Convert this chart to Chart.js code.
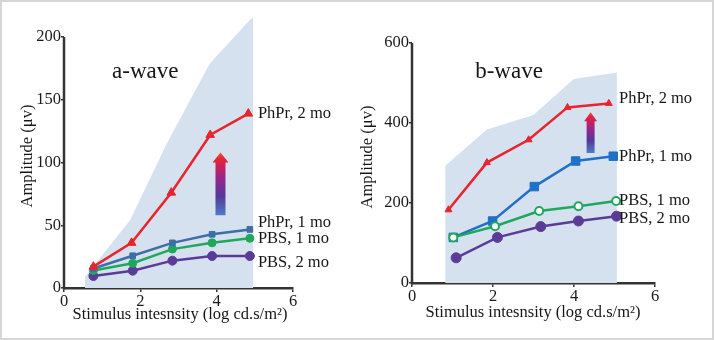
<!DOCTYPE html>
<html><head><meta charset="utf-8">
<script src="https://cdn.jsdelivr.net/npm/chart.js@4.4.1/dist/chart.umd.min.js"></script>
<style>
html,body{margin:0;padding:0;background:#fff;}
#wrap{position:relative;width:714px;height:340px;overflow:hidden;background:#fff;}
#frame{position:absolute;left:0;top:0;width:714px;height:340px;box-sizing:border-box;border:2px solid #d6d6d6;pointer-events:none;}
canvas{position:absolute;top:0;}
</style></head><body>
<div id="wrap">
<canvas id="ca" width="357" height="340" style="left:0;width:357px;height:340px"></canvas>
<canvas id="cb" width="357" height="340" style="left:357px;width:357px;height:340px"></canvas>
<div id="frame"></div>
</div>
<script>
// ---------- data ----------
const xTicks = [0, 2, 4, 6];
const aYTicks = [0, 50, 100, 150, 200];
const bYTicks = [0, 200, 400, 600];
const seriesNames = ['PhPr, 2 mo', 'PhPr, 1 mo', 'PBS, 1 mo', 'PBS, 2 mo'];

// a-wave
const aX_PhPr2 = [0.77, 1.77, 2.81, 3.83, 4.83];
const aY_PhPr2 = [17, 36, 76, 122, 139];
const aX_rest  = [0.77, 1.8, 2.84, 3.88, 4.87];
const aY_PhPr1 = [15.5, 25.7, 36, 42.8, 46.7];
const aY_PBS1  = [14, 19.7, 31, 36, 39.6];
const aY_PBS2  = [9.6, 13.8, 21.8, 25.5, 25.5];
const aBandX   = [0.55, 1.73, 2.69, 3.82, 4.91, 4.96];
const aBandY   = [9, 54, 115, 179, 215, 215];
const aLabelX  = 5.08;
const aLabelY  = [139, 52, 39, 20];
const aArrowX  = 4.1;
const aArrowY  = [58, 108];
const aTitle   = 'a-wave';
const aTitlePos = [1.26, 172];

// b-wave
const bX_PhPr2 = [0.9, 1.85, 2.88, 3.84, 4.86];
const bY_PhPr2 = [183, 301, 358, 439, 449];
const bX_PhPr1 = [1.02, 1.99, 3.02, 4.04, 4.97];
const bY_PhPr1 = [114, 155, 241, 305, 317];
const bX_PBS1  = [1.02, 2.05, 3.14, 4.11, 5.04];
const bY_PBS1  = [114, 142, 180, 192, 205];
const bX_PBS2  = [1.09, 2.11, 3.18, 4.11, 5.05];
const bY_PBS2  = [63, 114, 141, 155, 167];
const bBandX   = [0.82, 1.85, 3.0, 3.99, 5.06];
const bBandY   = [293, 384, 420, 510, 526];
const bLabelX  = 5.11;
const bLabelY  = [460, 315, 205, 162];
const bArrowX  = 4.41;
const bArrowY  = [325, 427];
const bTitle   = 'b-wave';
const bTitlePos = [1.56, 527];

const yTitle = 'Amplitude (μv)';
const xTitle = 'Stimulus intesnsity (log cd.s/m²)';

// ---------- helpers ----------
const pts = (xs, ys) => xs.map((x, i) => ({x, y: ys[i]}));
const SERIF = '"Liberation Serif", "DejaVu Serif", serif';
const C_RED = '#e8242c', C_GREEN = '#1fa85a', C_PURPLE = '#5a3c98';

const deco = {
  id: 'deco',
  afterDatasetsDraw(chart) {
    const o = chart.options.plugins.deco;
    const {ctx, scales: {x, y}} = chart;
    const cx = x.getPixelForValue(o.arrowX);
    const yb = y.getPixelForValue(o.arrowY[0]);
    const yt = y.getPixelForValue(o.arrowY[1]);
    const g = ctx.createLinearGradient(0, yb, 0, yt);
    g.addColorStop(0, '#4f7cc4');
    g.addColorStop(0.3, '#55389a');
    g.addColorStop(0.55, '#8a2a8e');
    g.addColorStop(0.78, '#cc1f60');
    g.addColorStop(0.9, '#e82430');
    g.addColorStop(1, '#f05a28');
    ctx.save();
    ctx.fillStyle = g;
    const sw = o.arrowShaft / 2, hw = o.arrowHeadW / 2, hh = o.arrowHeadH;
    ctx.beginPath();
    ctx.moveTo(cx - sw, yb);
    ctx.lineTo(cx - sw, yt + hh);
    ctx.lineTo(cx - hw, yt + hh);
    ctx.lineTo(cx, yt);
    ctx.lineTo(cx + hw, yt + hh);
    ctx.lineTo(cx + sw, yt + hh);
    ctx.lineTo(cx + sw, yb);
    ctx.closePath();
    ctx.fill();
    ctx.restore();
  },
  afterDraw(chart) {
    const o = chart.options.plugins.deco;
    const {ctx, chartArea: ca, scales: {x, y}} = chart;
    ctx.save();
    ctx.strokeStyle = '#333';
    ctx.lineWidth = 2.5;
    ctx.beginPath();
    ctx.moveTo(ca.left, y.getPixelForValue(0) + 1.5);
    ctx.lineTo(ca.left, y.getPixelForValue(o.yTop));
    ctx.stroke();
    ctx.fillStyle = '#161616';
    ctx.font = '16.5px ' + SERIF;
    ctx.textBaseline = 'middle';
    ctx.textAlign = 'left';
    seriesNames.forEach((t, i) => ctx.fillText(t, x.getPixelForValue(o.labelX), y.getPixelForValue(o.labelY[i])));
    ctx.font = '23px ' + SERIF;
    ctx.fillText(o.title, x.getPixelForValue(o.titlePos[0]), y.getPixelForValue(o.titlePos[1]));
    ctx.font = '16.5px ' + SERIF;
    ctx.textAlign = 'center';
    ctx.fillText(xTitle, o.xTitlePx[0], o.xTitlePx[1]);
    ctx.translate(o.yTitlePx[0], o.yTitlePx[1]);
    ctx.rotate(-Math.PI / 2);
    ctx.fillText(yTitle, 0, 0);
    ctx.restore();
  }
};

function lineDs(data, color, shape, radius, extra) {
  return Object.assign({
    data, borderColor: color, backgroundColor: color, borderWidth: 2.5,
    pointStyle: shape, pointRadius: radius, pointBorderWidth: 1,
    pointBackgroundColor: color, pointBorderColor: color, fill: false, tension: 0, order: 1
  }, extra || {});
}

function makeChart(id, cfg) {
  return new Chart(document.getElementById(id), {
    type: 'line',
    data: {datasets: cfg.datasets},
    options: {
      responsive: false, animation: false, devicePixelRatio: 1,
      layout: {padding: cfg.padding},
      plugins: {legend: {display: false}, tooltip: {enabled: false}, deco: cfg.deco},
      scales: {
        x: {
          type: 'linear', min: 0, max: 6,
          afterBuildTicks: s => { s.ticks = xTicks.map(v => ({value: v})); },
          afterFit: s => { s.height = cfg.xH; s.paddingLeft = 0; s.paddingRight = 0; },
          ticks: {font: {family: SERIF, size: 16.5}, color: '#1a1a1a', padding: 0, maxRotation: 0, autoSkip: false},
          grid: {drawOnChartArea: false, drawTicks: true, tickLength: 4, color: '#333', lineWidth: 1.5},
          border: {display: true, color: '#333', width: 2.5}
        },
        y: {
          type: 'linear', min: 0, max: cfg.yMax,
          afterBuildTicks: s => { s.ticks = cfg.yTicks.map(v => ({value: v})); },
          afterFit: s => { s.width = cfg.yW; },
          ticks: {font: {family: SERIF, size: 16.5}, color: '#1a1a1a', padding: 0},
          grid: {drawOnChartArea: false, drawTicks: true, tickLength: 3, color: '#333', lineWidth: 1.5},
          border: {display: false}
        }
      }
    },
    plugins: [deco]
  });
}

const bandStyle = {borderWidth: 0, pointRadius: 0, fill: 'origin', backgroundColor: '#d6e1ef', borderColor: 'rgba(0,0,0,0)', order: 10};

makeChart('ca', {
  padding: {left: 0, top: 12, right: 64, bottom: 0},
  xH: 52, yW: 64, yMax: 220, yTicks: aYTicks,
  datasets: [
    lineDs(pts(aX_rest, aY_PBS1), C_GREEN, 'circle', 4, {order: 2}),
    lineDs(pts(aX_rest, aY_PBS2), C_PURPLE, 'circle', 4.5, {order: 3}),
    lineDs(pts(aX_rest, aY_PhPr1), '#3e6ea6', 'rect', 4, {order: 1}),
    lineDs(pts(aX_PhPr2, aY_PhPr2), C_RED, 'triangle', 5, {order: 0}),
    Object.assign({data: pts(aBandX, aBandY)}, bandStyle)
  ],
  deco: {yTop: 200, labelX: aLabelX, labelY: aLabelY, title: aTitle, titlePos: aTitlePos,
         arrowX: aArrowX, arrowY: aArrowY, arrowShaft: 10, arrowHeadW: 16, arrowHeadH: 10,
         xTitlePx: [180, 315], yTitlePx: [28, 156]}
});

makeChart('cb', {
  padding: {left: 0, top: 43, right: 59, bottom: 0},
  xH: 57, yW: 55, yMax: 600, yTicks: bYTicks,
  datasets: [
    lineDs(pts(bX_PBS1, bY_PBS1), C_GREEN, 'circle', 4, {order: 0, pointBackgroundColor: '#ffffff', pointBorderWidth: 2}),
    lineDs(pts(bX_PBS2, bY_PBS2), C_PURPLE, 'circle', 5, {order: 3}),
    lineDs(pts(bX_PhPr1, bY_PhPr1), '#1f70c6', 'rect', 6, {order: 1}),
    lineDs(pts(bX_PhPr2, bY_PhPr2), C_RED, 'triangle', 4, {order: 2}),
    Object.assign({data: pts(bBandX, bBandY)}, bandStyle)
  ],
  deco: {yTop: 600, labelX: bLabelX, labelY: bLabelY, title: bTitle, titlePos: bTitlePos,
         arrowX: bArrowX, arrowY: bArrowY, arrowShaft: 8, arrowHeadW: 13, arrowHeadH: 9,
         xTitlePx: [176, 313], yTitlePx: [11, 157]}
});
</script>
</body></html>
